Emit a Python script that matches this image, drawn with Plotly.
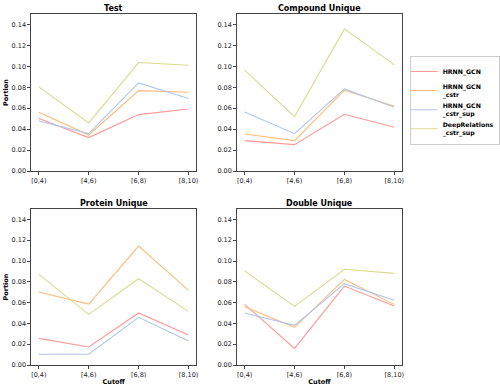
import plotly.graph_objects as go
from plotly.subplots import make_subplots

cutoffs = ["[0,4)", "[4,6)", "[6,8)", "[8,10)"]
series_names = ["HRNN_GCN", "HRNN_GCN<br>_cstr", "HRNN_GCN<br>_cstr_sup", "DeepRelations<br>_cstr_sup"]
series_colors = ["#ff9896", "#ffbb78", "#aec7e8", "#dbdb8d"]

panel_titles = ["Test", "Compound Unique", "Protein Unique", "Double Unique"]

test_vals = [
    [0.0501, 0.0319, 0.0539, 0.0593],
    [0.0561, 0.0344, 0.0768, 0.0753],
    [0.0478, 0.0357, 0.0842, 0.0692],
    [0.0804, 0.0459, 0.1036, 0.1011],
]
compound_vals = [
    [0.0290, 0.0252, 0.0542, 0.0418],
    [0.0354, 0.0290, 0.0772, 0.0619],
    [0.0564, 0.0357, 0.0784, 0.0609],
    [0.0963, 0.0520, 0.1358, 0.1014],
]
protein_vals = [
    [0.0256, 0.0173, 0.0500, 0.0288],
    [0.0702, 0.0586, 0.1144, 0.0718],
    [0.0103, 0.0103, 0.0458, 0.0231],
    [0.0871, 0.0487, 0.0830, 0.0516],
]
double_vals = [
    [0.0583, 0.0160, 0.0759, 0.0567],
    [0.0560, 0.0362, 0.0823, 0.0583],
    [0.0500, 0.0381, 0.0782, 0.0622],
    [0.0904, 0.0564, 0.0920, 0.0881],
]
panels = [test_vals, compound_vals, protein_vals, double_vals]

W, H = 500, 389
FONT = "DejaVu Sans"

fig = make_subplots(rows=2, cols=2, subplot_titles=panel_titles)

for p, vals in enumerate(panels):
    r, c = p // 2 + 1, p % 2 + 1
    for i, ys in enumerate(vals):
        fig.add_trace(go.Scatter(
            x=cutoffs, y=ys, mode="lines", name=series_names[i],
            line=dict(color=series_colors[i], width=1.1),
            showlegend=(p == 0),
        ), row=r, col=c)

# panel positions in pixels (left, right, top, bottom)
boxes = [(32, 200, 14, 171), (242, 410, 14, 171), (32, 200, 209, 365), (242, 410, 209, 365)]
axis_style = dict(showline=True, mirror=True, linecolor="#444", linewidth=1, automargin=False,
                  ticks="outside", ticklen=3, tickcolor="#444", showgrid=False, zeroline=False,
                  tickfont=dict(family=FONT, size=6.5, color="#222"))
for p, (x0, x1, y0, y1) in enumerate(boxes):
    n = "" if p == 0 else str(p + 1)
    fig.layout["xaxis" + n].update(domain=[x0 / W, x1 / W], range=[-0.15, 3.15], **axis_style)
    fig.layout["yaxis" + n].update(domain=[1 - y1 / H, 1 - y0 / H], range=[0, 0.15],
                                   tickvals=[0, 0.02, 0.04, 0.06, 0.08, 0.10, 0.12, 0.14],
                                   tickformat=".2f", **axis_style)
    ann = fig.layout.annotations[p]
    ann.update(x=(x0 + x1) / 2 / W, y=1 - (y0 + 1) / H, yanchor="bottom",
               font=dict(family=FONT, size=8, color="black", weight="bold"))

for p in (0, 2):
    n = "" if p == 0 else str(p + 1)
    fig.layout["yaxis" + n].title = dict(text="Portion", standoff=2,
                                         font=dict(family=FONT, size=6.5, color="black", weight="bold"))
for p in (2, 3):
    n = str(p + 1)
    fig.layout["xaxis" + n].title = dict(text="Cutoff", standoff=1,
                                         font=dict(family=FONT, size=6.5, color="black", weight="bold"))

fig.update_layout(
    width=W, height=H, margin=dict(l=0, r=0, t=0, b=0),
    plot_bgcolor="white", paper_bgcolor="white",
    legend=dict(x=418 / W, y=1 - 56 / H, xanchor="left", yanchor="top",
                bordercolor="#ccc", borderwidth=1, bgcolor="white",
                font=dict(family=FONT, size=6.2, color="black", weight="bold"),
                itemwidth=30, tracegroupgap=0, indentation=-8),
)

# default page body margin would shift the figure; remove it
fig.write_html("out.html", config={"displayModeBar": False},
               post_script="document.body.style.margin='0';")
